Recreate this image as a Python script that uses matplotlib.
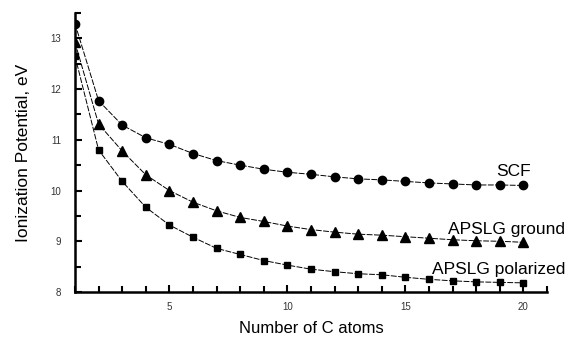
import matplotlib
matplotlib.use("Agg")
import matplotlib.pyplot as plt
from matplotlib.ticker import MultipleLocator

plt.rcParams['font.family'] = ['Liberation Sans', 'DejaVu Sans']

n_atoms = list(range(1, 21))
scf = [13.29, 11.77, 11.29, 11.04, 10.91, 10.73, 10.59, 10.50, 10.42, 10.36,
       10.32, 10.27, 10.23, 10.21, 10.18, 10.15, 10.13, 10.11, 10.11, 10.10]
apslg_ground = [12.92, 11.31, 10.78, 10.31, 10.00, 9.77, 9.60, 9.47, 9.39, 9.30,
                9.23, 9.18, 9.14, 9.12, 9.09, 9.06, 9.03, 9.01, 9.00, 8.98]
apslg_polarized = [12.65, 10.80, 10.18, 9.67, 9.32, 9.08, 8.86, 8.74, 8.62, 8.53,
                   8.45, 8.40, 8.36, 8.34, 8.29, 8.25, 8.22, 8.20, 8.19, 8.18]
series_labels = ["SCF", "APSLG ground", "APSLG polarized"]

fig = plt.figure(figsize=(5.66, 3.37), dpi=100)
ax = fig.add_axes([0.1325, 0.1335, 0.834, 0.828])

line_kw = dict(color='black', linewidth=0.7, linestyle=(0, (6, 1.5)))
ax.plot(n_atoms, scf, marker='o', markersize=6, **line_kw)
ax.plot(n_atoms, apslg_ground, marker='^', markersize=6.5, **line_kw)
ax.plot(n_atoms, apslg_polarized, marker='s', markersize=4.8, **line_kw)

ax.set_xlim(1, 21)
ax.set_ylim(8, 13.5)
ax.xaxis.set_major_locator(MultipleLocator(5))
ax.xaxis.set_minor_locator(MultipleLocator(1))
ax.yaxis.set_major_locator(MultipleLocator(1))
ax.yaxis.set_minor_locator(MultipleLocator(0.5))

for s in ['top', 'right']:
    ax.spines[s].set_visible(False)
for s in ['left', 'bottom']:
    ax.spines[s].set_linewidth(1.8)

ax.tick_params(which='major', direction='in', length=5, width=1.5,
               labelsize=7, labelcolor='#333333')
ax.tick_params(axis='x', which='major', pad=7)
ax.tick_params(axis='y', which='major', pad=10)
ax.tick_params(which='minor', direction='in', length=4, width=1.5)

ax.set_xlabel("Number of C atoms", fontsize=12, labelpad=7)
ax.set_ylabel("Ionization Potential, eV", fontsize=12.5, labelpad=14)

ax.text(18.86, 10.29, series_labels[0], fontsize=12.5, va='baseline', ha='left')
ax.text(16.79, 9.144, series_labels[1], fontsize=12.5, va='baseline', ha='left')
ax.text(16.11, 8.355, series_labels[2], fontsize=12.5, va='baseline', ha='left')

fig.savefig("out.png", dpi=100)
